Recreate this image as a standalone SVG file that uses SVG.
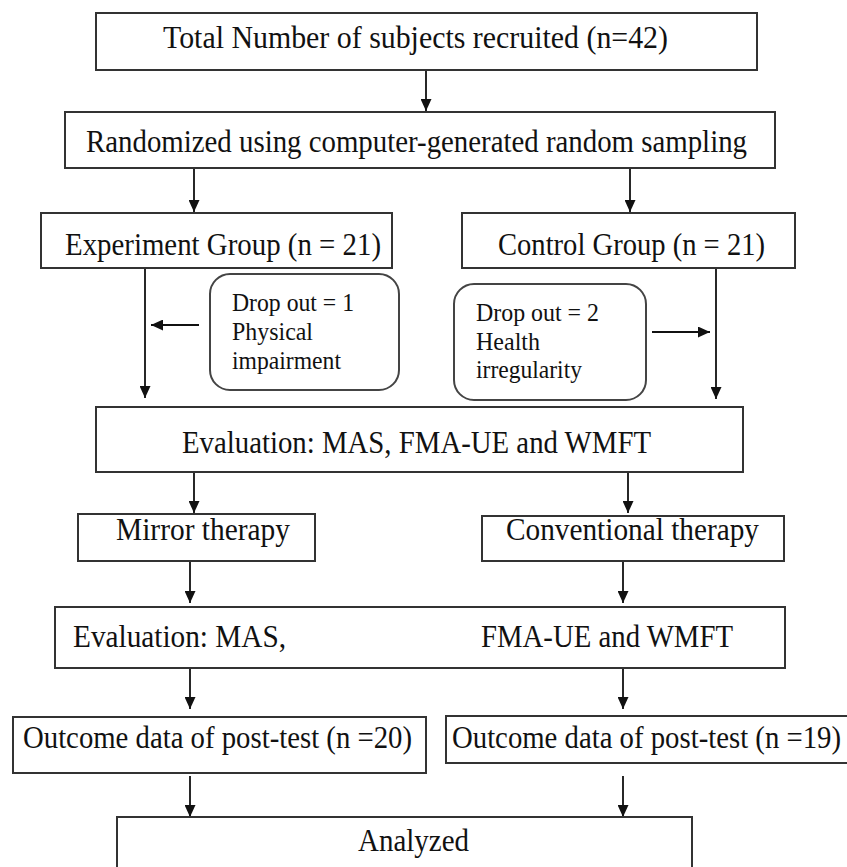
<svg xmlns="http://www.w3.org/2000/svg" width="847" height="867" viewBox="0 0 847 867">
<style>
.box{fill:#fff;stroke:#333;stroke-width:2}
.rbox{fill:#fff;stroke:#444;stroke-width:2}
.t{font-family:"Liberation Serif","Times New Roman",serif;font-size:31px;fill:#111}
.s{font-family:"Liberation Serif","Times New Roman",serif;font-size:25px;fill:#111}
.c{stroke:#111;stroke-width:1.8;fill:none;marker-end:url(#ah)}
</style>
<defs>
<marker id="ah" viewBox="0 0 12 11" refX="12" refY="5.5" markerWidth="12" markerHeight="11" markerUnits="userSpaceOnUse" orient="auto">
<path d="M0,0 L12,5.5 L0,11 z" fill="#111"/>
</marker>
</defs>
<rect width="847" height="867" fill="#fff"/>
<g id="connectors">
<line class="c" x1="426" y1="70" x2="426" y2="111"/>
<line class="c" x1="194" y1="168" x2="194" y2="212"/>
<line class="c" x1="630" y1="168" x2="630" y2="212"/>
<line class="c" x1="145" y1="268" x2="145" y2="398"/>
<line class="c" x1="716" y1="268" x2="716" y2="399"/>
<line class="c" x1="199" y1="325" x2="151" y2="325"/>
<line class="c" x1="652" y1="332" x2="710" y2="332"/>
<line class="c" x1="194" y1="472" x2="194" y2="513"/>
<line class="c" x1="628" y1="472" x2="628" y2="513"/>
<line class="c" x1="190" y1="561" x2="190" y2="603"/>
<line class="c" x1="623" y1="561" x2="623" y2="603"/>
<line class="c" x1="190" y1="668" x2="190" y2="709"/>
<line class="c" x1="623" y1="668" x2="623" y2="709"/>
<line class="c" x1="190" y1="776" x2="190" y2="817"/>
<line class="c" x1="623" y1="776" x2="623" y2="817"/>
</g>
<g id="n-total">
<rect class="box" x="96" y="13" width="661" height="57"/>
<text class="t" x="163" y="48" textLength="505" lengthAdjust="spacingAndGlyphs">Total Number of subjects recruited (n=42)</text>
</g>
<g id="n-random">
<rect class="box" x="65" y="112" width="710" height="56"/>
<text class="t" x="86" y="152" textLength="661" lengthAdjust="spacingAndGlyphs">Randomized using computer-generated random sampling</text>
</g>
<g id="n-exp">
<rect class="box" x="41" y="213" width="351" height="55"/>
<text class="t" x="65" y="255" textLength="316" lengthAdjust="spacingAndGlyphs">Experiment Group (n = 21)</text>
</g>
<g id="n-ctrl">
<rect class="box" x="462" y="213" width="333" height="55"/>
<text class="t" x="498" y="255" textLength="267" lengthAdjust="spacingAndGlyphs">Control Group (n = 21)</text>
</g>
<g id="n-drop1">
<rect class="rbox" x="210" y="274" width="189" height="116" rx="20" ry="20"/>
<text class="s" x="232" y="311" textLength="122" lengthAdjust="spacingAndGlyphs">Drop out = 1</text>
<text class="s" x="232" y="340" textLength="81" lengthAdjust="spacingAndGlyphs">Physical</text>
<text class="s" x="232" y="369" textLength="109" lengthAdjust="spacingAndGlyphs">impairment</text>
</g>
<g id="n-drop2">
<rect class="rbox" x="454" y="284" width="192" height="116" rx="20" ry="20"/>
<text class="s" x="476" y="321" textLength="123" lengthAdjust="spacingAndGlyphs">Drop out = 2</text>
<text class="s" x="476" y="350" textLength="64" lengthAdjust="spacingAndGlyphs">Health</text>
<text class="s" x="476" y="378" textLength="106" lengthAdjust="spacingAndGlyphs">irregularity</text>
</g>
<g id="n-eval1">
<rect class="box" x="96" y="407" width="647" height="65"/>
<text class="t" x="182" y="453" textLength="469" lengthAdjust="spacingAndGlyphs">Evaluation: MAS, FMA-UE and WMFT</text>
</g>
<g id="n-mirror">
<rect class="box" x="78" y="514" width="237" height="47"/>
<text class="t" x="116" y="540" textLength="174" lengthAdjust="spacingAndGlyphs">Mirror therapy</text>
</g>
<g id="n-conv">
<rect class="box" x="482" y="516" width="302" height="45"/>
<text class="t" x="506" y="540" textLength="253" lengthAdjust="spacingAndGlyphs">Conventional therapy</text>
</g>
<g id="n-eval2">
<rect class="box" x="55" y="607" width="730" height="61"/>
<text class="t" x="73" y="647" textLength="213" lengthAdjust="spacingAndGlyphs">Evaluation: MAS,</text>
<text class="t" x="481" y="647" textLength="252" lengthAdjust="spacingAndGlyphs">FMA-UE and WMFT</text>
</g>
<g id="n-out1">
<rect class="box" x="13" y="717" width="413" height="56"/>
<text class="t" x="23" y="748" textLength="389" lengthAdjust="spacingAndGlyphs">Outcome data of post-test (n =20)</text>
</g>
<g id="n-out2">
<rect class="box" x="446" y="716" width="410" height="47"/>
<text class="t" x="452" y="748" textLength="389" lengthAdjust="spacingAndGlyphs">Outcome data of post-test (n =19)</text>
</g>
<g id="n-analyzed">
<rect class="box" x="117" y="817" width="575" height="60"/>
<text class="t" x="358" y="851" textLength="111" lengthAdjust="spacingAndGlyphs">Analyzed</text>
</g>
</svg>
